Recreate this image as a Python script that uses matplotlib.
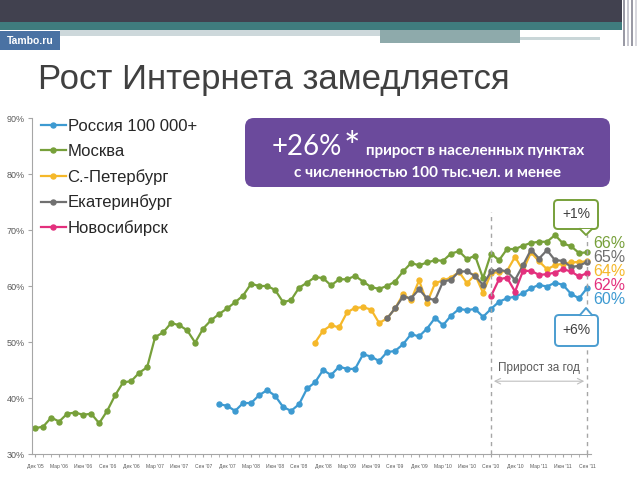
import numpy as np
import matplotlib.pyplot as plt
from matplotlib.patches import FancyBboxPatch, Rectangle, Polygon

plt.rcParams['font.family'] = ['Liberation Sans', 'DejaVu Sans']

# quarterly tick labels, Dec 2005 .. Sep 2011 (data is monthly)
months = ["Дек '05", "Мар '06", "Июн '06", "Сен '06", "Дек '06", "Мар '07",
          "Июн '07", "Сен '07", "Дек '07", "Мар '08", "Июн '08", "Сен '08",
          "Дек '08", "Мар '09", "Июн '09", "Сен '09", "Дек '09", "Мар '10",
          "Июн '10", "Сен '10", "Дек '10", "Мар '11", "Июн '11", "Сен '11"]

# series: first month index (0 = Dec '05) + monthly values, %
russia_start = 23
russia = [38.9, 38.6, 37.7, 39.1, 39.1, 40.5, 41.4, 40.4, 38.4, 37.7, 38.9, 41.7, 42.8,
          45.0, 44.1, 45.6, 45.2, 45.2, 47.8, 47.4, 46.6, 48.2, 48.4, 49.6, 51.4, 51.0,
          52.4, 54.3, 53.0, 54.7, 55.9, 55.7, 55.9, 54.5,
          55.9, 57.2, 57.8, 58.1, 58.7, 59.6, 60.2, 59.9, 60.6, 60.2, 58.6, 57.8, 59.6]

moscow_start = 0
moscow = [34.6, 34.9, 36.5, 35.8, 37.2, 37.4, 37.0, 37.2, 35.5, 37.7, 40.5, 42.8, 43.0,
          44.5, 45.5, 50.9, 51.7, 53.4, 53.0, 52.1, 49.9, 52.4, 53.9, 55.0, 56.0, 57.1,
          58.3, 60.4, 60.0, 60.0, 59.3, 57.1, 57.5, 59.7, 60.6, 61.6, 61.4, 60.1,
          61.2, 61.2, 61.8, 60.8, 59.8, 59.5, 60.0, 60.8, 62.6, 64.1, 63.7, 64.2, 64.6,
          64.5, 65.8, 66.2, 64.8, 65.4, 61.4,
          65.8, 64.6, 66.6, 66.6, 67.2, 67.7, 67.9, 67.9, 69.1, 67.6, 67.1, 65.9, 66.0]

spb_start = 35
spb = [49.9, 52.0, 53.0, 52.6, 55.3, 56.1, 56.2, 55.8, 53.4,
       54.2, 56.0, 58.5, 57.5, 61.0, 57.0, 60.5, 61.0, 61.5, 62.5, 60.5, 62.0, 58.8,
       62.3, 62.5, 62.7, 65.2, 62.8, 66.0, 64.4, 63.0, 63.7, 64.0, 64.2, 64.3, 64.4]

ekb_start = 44
ekb = [54.2, 56.0, 58.1, 57.8, 59.4, 57.8, 57.5, 60.8, 61.1, 62.6, 62.6, 61.8, 60.2,
       62.6, 62.9, 62.6, 61.1, 63.7, 66.5, 64.9, 66.4, 64.6, 64.5, 63.4, 63.6, 64.3]

nsk_start = 57
nsk = [58.2, 61.2, 61.5, 59.0, 62.7, 62.7, 62.0, 62.1, 62.4, 63.0, 62.6, 61.7, 62.3]

names = ["Россия 100 000+", "Москва", "С.-Петербург", "Екатеринбург", "Новосибирск"]
end_labels = ["60%", "66%", "64%", "65%", "62%"]
colors = ['#3d9ad1', '#77a03a', '#f5b82a', '#707070', '#e3307d']

W, H = 640, 480
fig = plt.figure(figsize=(6.4, 4.8), dpi=100)

# background layer in pixel coords (slide decoration)
bg = fig.add_axes([0, 0, 1, 1], zorder=0)
bg.set_xlim(0, W)
bg.set_ylim(H, 0)
bg.axis('off')
bg.add_patch(Rectangle((0, 0), 622, 22, fc='#41414f', ec='none'))
bg.add_patch(Rectangle((0, 22), 622, 8, fc='#3f7c7e', ec='none'))
bg.add_patch(Rectangle((60, 30), 320, 6, fc='#cdd8db', ec='none'))
bg.add_patch(Rectangle((380, 30), 140, 13, fc='#8eaaab', ec='none'))
bg.add_patch(Rectangle((520, 37), 80, 3, fc='#c9d6d8', ec='none'))
for xs, c in [(623, '#9a9aa5'), (627, '#c8c8d0'), (631, '#9a9aa5'), (635, '#d8d8de')]:
    bg.add_patch(Rectangle((xs, 0), 2, 46, fc=c, ec='none'))
bg.add_patch(Rectangle((0, 31), 60, 19, fc='#4a72a3', ec='none'))
bg.text(30, 41, "Tambo.ru", color='white', fontsize=7.5, fontweight='bold',
        ha='center', va='center')
bg.text(38, 80, "Рост Интернета замедляется", fontsize=25, color='#404040',
        ha='left', va='center')

# chart
ax = fig.add_axes([32 / W, 1 - 454 / H, (591 - 32) / W, (454 - 118) / H], zorder=1)
ax.patch.set_alpha(0)
series = [(russia_start, russia), (moscow_start, moscow), (spb_start, spb),
          (ekb_start, ekb), (nsk_start, nsk)]
for (start, vals), c, name in zip(series, colors, names):
    x = np.arange(start, start + len(vals))
    ax.plot(x, vals, color=c, lw=1.6, marker='o', ms=3.6, label=name)

ax.set_xlim(-0.4, 69.5)
ax.set_ylim(30, 90)
ax.set_yticks(np.arange(30, 91, 10))
ax.set_yticklabels([f"{v}%" for v in range(30, 91, 10)])
ax.set_xticks(np.arange(0, 70, 3))
ax.set_xticklabels(months)
ax.set_xticks(np.arange(0, 70), minor=True)
ax.tick_params(axis='x', which='both', length=2, color='#a6a6a6', labelsize=3.6,
               labelcolor='#595959', pad=5)
ax.tick_params(axis='y', length=3, color='#a6a6a6', labelsize=6.5,
               labelcolor='#595959', pad=2)
for s in ['top', 'right']:
    ax.spines[s].set_visible(False)
for s in ['left', 'bottom']:
    ax.spines[s].set_color('#a6a6a6')
    ax.spines[s].set_linewidth(0.8)

ax.legend(loc='upper left', bbox_to_anchor=(0.016, 0.998), frameon=False,
          fontsize=12, handlelength=1.5, handletextpad=0.1, labelspacing=0.6,
          borderpad=0, borderaxespad=0, labelcolor='#262626')

# year-over-year interval
ax.vlines(57, 30, 73.2, colors='#a6a6a6', lw=1, linestyles=(0, (3, 3)))
ax.vlines(69, 30, 69.3, colors='#a6a6a6', lw=1, linestyles=(0, (3, 3)))
ax.annotate('', xy=(57, 43.0), xytext=(69, 43.0),
            arrowprops=dict(arrowstyle='<->', color='#bfbfbf', lw=0.8))
ax.text(63, 45.4, "Прирост за год", ha='center', va='center', fontsize=8.5,
        color='#595959')

# foreground annotations in pixel coords
fg = fig.add_axes([0, 0, 1, 1], zorder=2)
fg.set_xlim(0, W)
fg.set_ylim(H, 0)
fg.axis('off')

fg.add_patch(FancyBboxPatch((245, 118), 365, 69, boxstyle="round,pad=0,rounding_size=9",
                            fc='#6b4a9c', ec='none'))
fg.text(272, 155, "+26%", color='white', fontsize=20, ha='left', va='baseline',
        family=['Lato', 'Liberation Sans'])
fg.text(344, 160, "*", color='white', fontsize=28, ha='left', va='baseline',
        family=['Lato', 'Liberation Sans'])
fg.text(366, 155, "прирост в населенных пунктах", color='white', fontsize=10.9,
        fontweight='bold', ha='left', va='baseline', family=['Lato', 'Liberation Sans'])
fg.text(428, 177, "с численностью 100 тыс.чел. и менее", color='white', fontsize=11,
        fontweight='bold', ha='center', va='baseline', family=['Lato', 'Liberation Sans'])


def callout(x0, y0, w, h, tip_y, edge, text):
    fg.add_patch(FancyBboxPatch((x0, y0), w, h, boxstyle="round,pad=0,rounding_size=4",
                                fc='white', ec=edge, lw=1.4))
    base = y0 + h if tip_y > y0 else y0
    pts = [(580, base), (586, tip_y), (592, base)]
    fg.add_patch(Polygon(pts, closed=True, fc='white', ec='none'))
    fg.plot([p[0] for p in pts], [p[1] for p in pts], color=edge, lw=1.4)
    fg.text(x0 + w / 2, y0 + h / 2, text, ha='center', va='center', fontsize=10,
            color='#404040')


callout(554, 200, 44, 29, 235, '#77a03a', "+1%")
callout(555, 315, 43, 31, 308, '#4b9dd0', "+6%")

label_y = [299, 243, 271, 257, 285]
for lab, yy, c in zip(end_labels, label_y, colors):
    fg.text(593, yy, lab, color=c, fontsize=11.5, ha='left', va='center')

fig.savefig('out.png', dpi=100)
